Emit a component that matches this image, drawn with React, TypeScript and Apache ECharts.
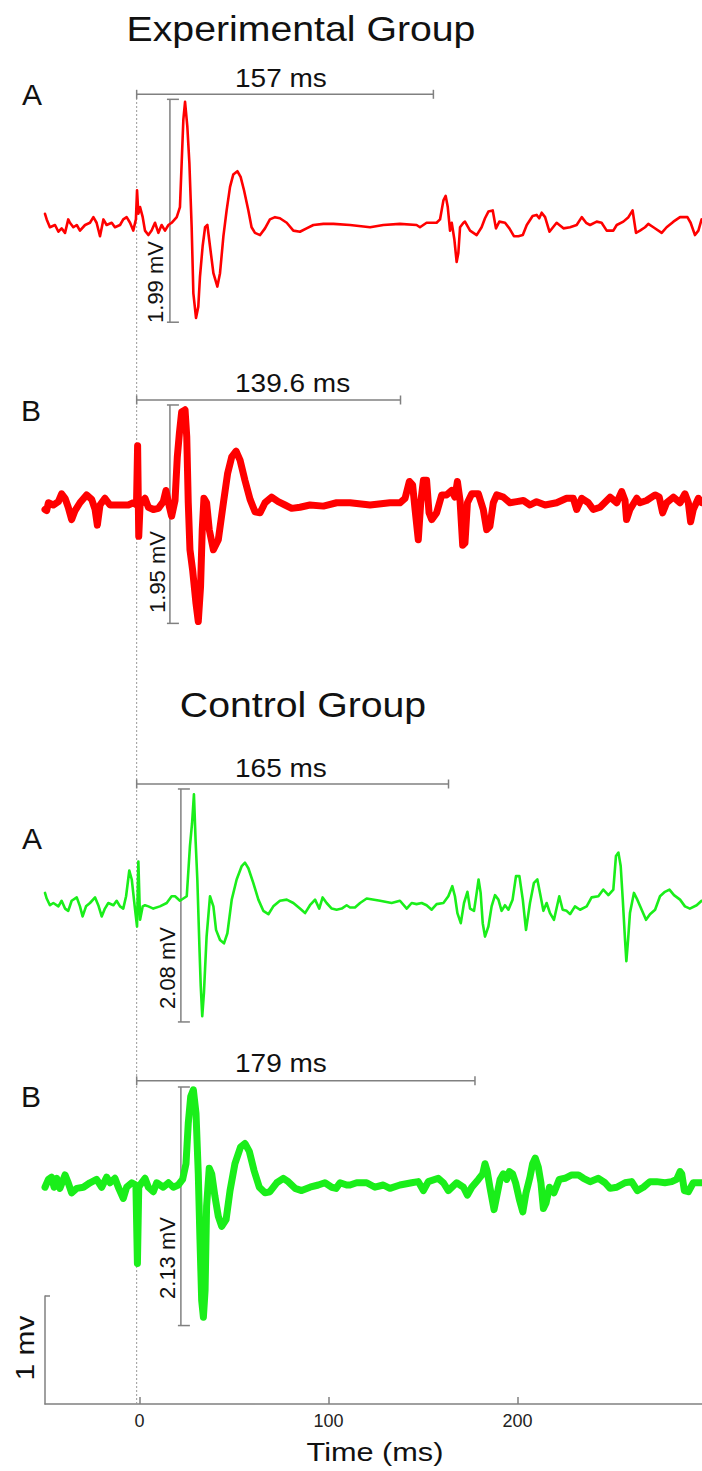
import React, { useEffect, useRef } from "react";
import * as echarts from "echarts";

// ---- data (time in ms, amplitude in mV, relative to each trace's baseline) ----
const expA: [number, number][] = [
  [-50,0.10],[-49.1,0.05],[-47.4,-0.02],[-44.7,0],[-42.9,-0.06],[-41.2,-0.03],[-39.4,-0.07],[-37.7,0.05],[-36.8,0.02],[-35,-0.02],[-33.2,0],[-31.5,-0.05],[-28.8,0],[-26.2,0.02],[-24.4,0.07],[-22.7,0.02],[-20.9,-0.1],[-19.1,0.05],[-17.4,0],[-14.7,0.02],[-13,-0.02],[-10.3,0],[-8.6,0.05],[-6.8,0.07],[-5,0.02],[-3.3,-0.05],[-1.9,0.05],[-1.3,0.31],[-0.6,0.1],[0.3,0.16],[1.7,0.07],[2.9,-0.05],[4.7,-0.09],[6.4,-0.05],[8.2,0.02],[10,-0.07],[11.7,0],[13.5,-0.05],[15.3,0],[17,0.02],[19.7,0.07],[21.4,0.16],[22.3,0.55],[23.2,0.94],[24.1,1.1],[25.3,0.88],[26.4,0.55],[27.6,-0.02],[28.5,-0.61],[29.9,-0.83],[31.1,-0.73],[32,-0.46],[33.4,-0.19],[34.7,-0.02],[35.9,0],[37.3,-0.19],[39.1,-0.43],[41.2,-0.55],[42.6,-0.43],[44.4,-0.1],[46.1,0.13],[47.9,0.34],[49.6,0.45],[51.8,0.48],[53.5,0.43],[55.3,0.31],[57.6,0.13],[59.3,-0.02],[61.1,-0.07],[63.8,-0.09],[66.4,-0.03],[69,0.05],[71.7,0.07],[74.3,0.06],[77.9,0.02],[81.4,-0.05],[84.9,-0.06],[88.4,-0.03],[92,0],[97.3,0.01],[102.6,0.01],[111.4,0],[122,-0.02],[129,0],[137.8,0.01],[146.6,0],[148.4,-0.02],[151.9,0.02],[157.2,0.02],[159,0.05],[160.8,0.22],[162,0.26],[163.1,0.16],[164.3,-0.05],[165.2,0.02],[166.6,-0.13],[167.8,-0.33],[168.7,-0.25],[169.6,-0.02],[171.4,0.02],[172.2,0.03],[174.9,-0.05],[178.4,-0.09],[181,-0.02],[182.8,0.06],[184.6,0.12],[186.9,0.13],[188.6,-0.03],[190.4,0.03],[193.4,0.02],[195.7,-0.03],[198.1,-0.1],[200.5,-0.1],[202.8,-0.09],[204.9,0],[208,0.08],[210.1,0.09],[211.5,0.06],[212.8,0.11],[214.6,0.07],[216.9,-0.06],[220.7,0.02],[224.3,-0.03],[227.8,-0.02],[231.3,0],[234,0.07],[236.3,0.02],[238.4,0],[241.9,0.03],[244.5,0.02],[247.2,-0.05],[250.7,-0.05],[252.5,0],[256,0.03],[258.7,0.07],[260.9,0.13],[262.7,-0.07],[264.8,-0.05],[267.5,-0.02],[269.2,0.01],[271.9,-0.02],[276.3,-0.07],[278.9,-0.02],[282.5,0.03],[286,0.07],[289.9,0.07],[291.6,0.02],[293.9,-0.09],[295.7,-0.05],[297.4,0.05],[300,0.03]
];

const expB: [number, number][] = [
  [-50,-0.04],[-49.1,-0.05],[-48.2,0.02],[-45.6,0],[-42.9,0.03],[-41.2,0.1],[-39.4,0.06],[-37.7,-0.02],[-35.9,-0.13],[-34.1,-0.05],[-31.5,0.02],[-28,0.09],[-25.3,0.05],[-23.5,-0.04],[-22.3,-0.18],[-20.9,0],[-18.3,0.06],[-15.6,0],[-10.3,0],[-5.9,0],[-3.3,0.02],[-1.6,0],[-1,0.53],[-0.4,-0.28],[0.3,0],[2.9,0.06],[4.7,-0.02],[7.3,-0.04],[10,-0.03],[12.6,0.03],[14,0.13],[15.3,0.02],[17,-0.1],[18.8,0.04],[20,0.43],[21.1,0.64],[22.3,0.83],[24.1,0.85],[25,0.61],[25.8,0.02],[26.7,-0.4],[28.1,-0.58],[29.9,-0.88],[31.1,-1.04],[32.3,-0.73],[33.2,-0.22],[34.1,0.06],[35.5,0.02],[36.9,-0.22],[39.1,-0.4],[41.7,-0.31],[44.4,0.02],[46.6,0.28],[48.8,0.43],[51.1,0.48],[53.2,0.4],[55.8,0.22],[58.5,0.05],[61.1,-0.06],[63.8,-0.07],[66.4,0.02],[69.9,0.07],[73.4,0.03],[77,0],[80.5,-0.03],[84.9,-0.02],[90.2,0],[97.3,-0.01],[104.3,0.02],[111.4,0.02],[122,0],[132.5,0.02],[137.8,0.02],[140.5,0.06],[142.8,0.21],[144.5,0.18],[145.8,-0.04],[147.5,-0.31],[148.8,0.02],[150.2,0.22],[151.9,0.22],[153.2,-0.07],[154.6,-0.13],[157.2,-0.07],[159.9,0.09],[162.5,0.09],[165.2,0.13],[166.9,0.07],[168.2,0.21],[169.6,0.04],[171,-0.36],[172.2,-0.34],[173.5,0.02],[175.8,0.1],[179.3,0.1],[181.9,-0.04],[183.7,-0.22],[185.4,-0.19],[187.2,0.02],[189,0.09],[192.5,0.07],[196,0.02],[199.6,0.03],[203.1,0.04],[206.6,0],[210.1,0.03],[214.6,0],[220.7,0.02],[226,0.06],[229.5,0.06],[231.3,-0.04],[234,0.06],[237.5,0.02],[240.1,-0.04],[243.7,-0.02],[249,0.07],[252.5,0.02],[255.1,0.12],[256.9,0.04],[257.7,-0.13],[259.5,-0.04],[263.1,0.06],[264.8,0.02],[268.3,0.04],[272.8,0.09],[275,0.07],[276.8,-0.07],[278.9,0.02],[282.5,0.07],[286,0.02],[288.6,0.1],[290.4,0.02],[291.6,-0.15],[293,-0.04],[295.7,0.06],[297.4,0.02],[300,0.02]
];

const ctlA: [number, number][] = [
  [-50,0.09],[-49.1,0.04],[-47.4,-0.02],[-45.6,0],[-42.9,-0.03],[-41.2,0.02],[-39.4,-0.05],[-37.7,-0.07],[-35.9,0.02],[-33.2,0.05],[-31.5,-0.03],[-30.1,-0.12],[-28.3,-0.03],[-26.2,0],[-23.5,0.05],[-21.8,-0.02],[-20,-0.12],[-18.3,-0.05],[-16.5,0],[-13.8,-0.02],[-12.1,0.02],[-10.3,-0.03],[-8.6,-0.05],[-7.1,0.06],[-5.4,0.29],[-4.1,0.21],[-2.4,-0.05],[-1.3,-0.21],[-0.6,0.37],[0.3,-0.15],[1.7,-0.03],[2.9,-0.02],[4.7,-0.03],[7.3,-0.05],[10.8,-0.03],[14.4,0],[17,0.06],[18.8,0.06],[21.4,0.02],[25,0.06],[26.7,0.51],[27.8,0.71],[28.8,0.97],[29.7,0.55],[30.6,0.21],[31.7,-0.39],[32.4,-0.74],[33.2,-1.01],[34.1,-0.8],[35.5,-0.3],[37.3,0.06],[39.1,-0.03],[40.5,-0.24],[42.6,-0.33],[44.7,-0.36],[46.5,-0.27],[48.8,0.03],[51.4,0.21],[54.1,0.33],[55.8,0.36],[57.6,0.31],[60.2,0.18],[62.9,0.03],[65.5,-0.07],[68.2,-0.1],[70.8,-0.03],[74.3,0.02],[77.9,0.03],[81.4,0],[84.9,-0.05],[87.6,-0.09],[90.2,-0.02],[92.9,0.03],[95.1,-0.05],[96.9,0.05],[99,0],[101.7,-0.05],[104.3,-0.06],[107,-0.05],[109.6,-0.02],[111.4,-0.04],[114,-0.04],[116.7,0],[120.2,0.04],[127.3,0.02],[133.4,0],[137.8,0.02],[141.4,-0.05],[144,0],[146.6,-0.01],[149.3,0],[151.9,-0.02],[154.6,-0.06],[157.2,-0.01],[160.8,0],[163.4,0.06],[165.5,0.15],[166.9,0.06],[168.2,-0.09],[170,-0.18],[171.7,0],[173.5,0.1],[174.9,-0.05],[177,-0.07],[178.4,0.09],[179.4,0.21],[180.5,0.09],[181.6,-0.18],[182.8,-0.3],[184.6,-0.21],[186.3,-0.03],[188.1,0.07],[189.9,0.03],[191.6,-0.07],[193.4,-0.02],[195.2,-0.06],[197.4,0.03],[199.2,0.24],[201,0.24],[202.8,0.03],[204.5,-0.24],[206.6,0],[208.7,0.18],[210.5,0.21],[211.9,0.09],[213.7,-0.07],[215.4,0],[217.2,-0.09],[219.3,-0.15],[222.1,0.06],[223.9,-0.06],[226,-0.07],[227.8,-0.1],[230.4,-0.03],[233.1,-0.06],[236.6,-0.03],[239.2,0.05],[242.8,0.06],[245.4,0.12],[248.1,0.07],[250.7,0.12],[252.1,0.42],[253.4,0.45],[254.6,0.33],[255.7,0.03],[256.9,-0.33],[257.6,-0.52],[258.5,-0.33],[259.5,-0.09],[261.6,0.09],[263.4,0.03],[265.7,-0.06],[268,-0.15],[270.1,-0.1],[272.8,-0.06],[275.4,0.06],[278,0.1],[280.4,0.12],[282.8,0.07],[286,0.03],[288.6,-0.03],[291.2,-0.05],[294.8,-0.02],[297.4,0.02],[300,0.02]
];

const ctlB: [number, number][] = [
  [-50,-0.02],[-48.2,0.05],[-46.5,0.07],[-45.2,-0.02],[-43.8,0.06],[-42.1,-0.03],[-39.4,0.09],[-37.7,0.02],[-35.9,-0.07],[-33.2,-0.03],[-29.7,-0.02],[-26.2,0.02],[-22.7,0.05],[-20,-0.02],[-17.4,0.07],[-15.6,0.02],[-13,0.06],[-11.2,-0.02],[-8.6,-0.12],[-6.8,-0.02],[-4.1,0.02],[-1.9,0],[-1.1,-0.7],[-0.4,-0.02],[1.1,0.02],[2.9,0.06],[4.7,-0.02],[7.3,-0.06],[9.1,0.02],[12.6,-0.02],[15.3,0.02],[17.9,-0.02],[20.5,0],[22.8,0.05],[24.6,0.19],[25.8,0.55],[27.1,0.79],[28.5,0.85],[29.9,0.64],[31.1,0.1],[32,-0.49],[32.9,-1.03],[33.8,-1.18],[34.7,-0.94],[35.5,-0.19],[36.9,0.15],[38.2,0.1],[39.9,-0.1],[41.7,-0.28],[43.5,-0.37],[45.8,-0.31],[47.9,-0.05],[50.5,0.19],[53.5,0.34],[55.8,0.37],[58.1,0.3],[60.6,0.13],[63.4,-0.02],[66.4,-0.07],[69,-0.06],[72.6,0.02],[76.1,0.06],[78.7,0.03],[82.3,-0.03],[85.8,-0.05],[90.2,-0.02],[94.6,0],[98.1,0.02],[101.7,-0.02],[104,-0.03],[106.1,0.02],[109.6,0],[111.4,0],[114.9,0.02],[120.2,0.02],[124.6,-0.02],[129,0],[132.5,-0.03],[137.8,0],[144,0.02],[147.5,0.03],[150.2,-0.05],[152.8,0.03],[158.1,0.06],[160.8,0.02],[163.4,-0.05],[167.8,0.02],[171.4,-0.02],[173.5,-0.09],[175.8,-0.02],[179.3,0.05],[181.6,0.1],[182.8,0.19],[184,0.12],[185.4,-0.02],[187.6,-0.22],[189,-0.1],[190.8,0.05],[192.5,0.1],[194.3,0.05],[195.7,0.12],[197.4,0.1],[199,0.02],[201,-0.13],[202.8,-0.24],[204.5,-0.07],[206.6,0.07],[208,0.19],[209.4,0.24],[211,0.16],[212.4,0.02],[213.7,-0.21],[215.1,-0.16],[216.9,-0.02],[219.3,-0.07],[222.1,0.05],[225.1,0.06],[228.7,0.09],[232.2,0.09],[234.9,0.06],[238.4,0.03],[242.8,0.06],[246.3,0.02],[249,-0.03],[252.5,-0.02],[256.9,0.02],[260.4,0.03],[263.4,-0.05],[266.6,-0.02],[270.1,0.03],[273.6,0.03],[278,0.02],[281.6,0.03],[284.2,0.05],[286,0.12],[286.9,0.1],[288.3,-0.05],[290.4,-0.06],[293,0.02],[297.4,0.02],[300,0.02]
];

const panelLetters = ["A", "B", "A", "B"];
const groupTitles = ["Experimental Group", "Control Group"];
const latencies = [157, 139.6, 165, 179]; // ms
const amplitudes = [1.99, 1.95, 2.08, 2.13]; // mV
const stimulusTime = -1.5; // ms
const xTicks = [0, 100, 200];
const scaleBarMv = 1;

// ---- layout ----
const X_MIN = -50;
const X_MAX = 300;
const LEFT = 45;
const PLOT_W = 661.5;
const baselines = [225, 505, 903, 1185];
const HALF = 168; // px for 1.5 mV
const msBarLevels = [1.167, 0.9375, 1.0625, 0.93];
const mvBarTops = [1.122, 0.893, 1.018, 0.875];
const mvBarTimes = [16.1, 16.1, 21.9, 21.9];
const traceColors = ["#ff0000", "#ff0000", "#1aee1a", "#1aee1a"];
const traceWidths = [2.6, 7, 2.6, 7];
const letterPos = [[32, 94], [31, 410], [32, 838], [31, 1096]];
const latLabelY = [79, 384, 769, 1064];
const ampLabelPos = [[155, 282], [157, 572], [167, 968], [167, 1258]];
const GRAY = "#808080";
const FONT = "Liberation Sans, Arial, Helvetica, sans-serif";

const traces = [expA, expB, ctlA, ctlB];

export default function App() {
  const ref = useRef<HTMLDivElement>(null);
  useEffect(() => {
    if (!ref.current) return;
    const chart = echarts.init(ref.current, null, { renderer: "svg" });

    const mk = (top: number, height: number) => ({
      left: LEFT, top, width: PLOT_W, height, outerBoundsMode: "none", containLabel: false,
    });
    const grid: any[] = baselines.map((b) => mk(b - HALF, HALF * 2));
    grid.push(mk(1296, 108)); // axis / scale bar
    grid.push(mk(93, 1311)); // stimulus line overlay

    const xAxis: any[] = grid.map((_, i) => {
      if (i === 4) {
        return {
          gridIndex: i, type: "value", min: X_MIN, max: X_MAX,
          axisLine: { show: true, onZero: false, lineStyle: { color: GRAY, width: 1.5 } },
          axisTick: { show: true, inside: true, length: 7, customValues: xTicks, lineStyle: { color: GRAY, width: 1.5 } },
          axisLabel: { show: true, customValues: xTicks, fontSize: 18, color: "#222", margin: 8, fontFamily: FONT },
          splitLine: { show: false },
        };
      }
      return { gridIndex: i, type: "value", min: X_MIN, max: X_MAX, show: false };
    });
    const yAxis: any[] = grid.map((_, i) => {
      if (i === 4) {
        return {
          gridIndex: i, type: "value", min: 0, max: scaleBarMv,
          axisLine: { show: true, onZero: false, lineStyle: { color: GRAY, width: 1.5 } },
          axisTick: { show: true, inside: true, length: 5, customValues: [scaleBarMv], lineStyle: { color: GRAY, width: 1.5 } },
          axisLabel: { show: false },
          splitLine: { show: false },
        };
      }
      if (i === 5) return { gridIndex: i, type: "value", min: 0, max: 1, show: false };
      return { gridIndex: i, type: "value", min: -1.5, max: 1.5, show: false };
    });

    const series: any[] = [];
    traces.forEach((data, i) => {
      series.push({
        type: "line", xAxisIndex: i, yAxisIndex: i, data, showSymbol: false, z: 3, silent: true,
        lineStyle: { color: traceColors[i], width: traceWidths[i], join: "round", cap: "round" },
      });
      // latency bar
      series.push({
        type: "line", xAxisIndex: i, yAxisIndex: i, z: 2, silent: true,
        data: [[stimulusTime, msBarLevels[i]], [stimulusTime + latencies[i], msBarLevels[i]]],
        symbol: "rect", symbolSize: [1.5, 9], showSymbol: true,
        itemStyle: { color: GRAY }, lineStyle: { color: GRAY, width: 1.5 },
      });
      // amplitude bar
      series.push({
        type: "line", xAxisIndex: i, yAxisIndex: i, z: 2, silent: true,
        data: [[mvBarTimes[i], mvBarTops[i]], [mvBarTimes[i], mvBarTops[i] - amplitudes[i]]],
        symbol: "rect", symbolSize: [12, 1.5], symbolOffset: [3, 0], showSymbol: true,
        itemStyle: { color: GRAY }, lineStyle: { color: GRAY, width: 1.5 },
      });
    });
    series.push({
      type: "line", xAxisIndex: 5, yAxisIndex: 5, z: 1, silent: true,
      data: [[stimulusTime, 0], [stimulusTime, 1]], showSymbol: false,
      lineStyle: { color: "#9a9a9a", width: 1, type: [2, 2] },
    });

    const txt = (text: string, x: number, y: number, size: number, opts: any = {}) => ({
      type: "text", x, y, z: 10, silent: true,
      scaleX: opts.scaleX ?? 1, rotation: opts.rotation ?? 0,
      style: {
        text, fontSize: size, fontFamily: FONT, fill: opts.fill ?? "#111",
        align: opts.align ?? "center", verticalAlign: "middle",
      },
    });

    const graphic: any[] = [
      txt(groupTitles[0], 301, 29, 36, { scaleX: 1.09 }),
      txt(groupTitles[1], 303, 705, 36, { scaleX: 1.09 }),
      ...panelLetters.map((l, i) => txt(l, letterPos[i][0], letterPos[i][1], 30)),
      ...latencies.map((v, i) => txt(`${v} ms`, 235, latLabelY[i], 25, { align: "left", scaleX: 1.12 })),
      ...amplitudes.map((v, i) => txt(`${v.toFixed(2)} mV`, ampLabelPos[i][0], ampLabelPos[i][1], 22, { rotation: Math.PI / 2 })),
      txt(`${scaleBarMv} mv`, 25, 1348, 26, { rotation: Math.PI / 2, scaleX: 1.15 }),
      txt("Time (ms)", 375, 1452, 26, { scaleX: 1.18 }),
    ];

    chart.setOption({
      animation: false,
      backgroundColor: "#ffffff",
      grid, xAxis, yAxis, series, graphic,
    });
    return () => chart.dispose();
  }, []);
  return (
    <div
      ref={ref}
      style={{ position: "absolute", left: 0, top: 0, width: 702, height: 1471, background: "#fff" }}
    />
  );
}
